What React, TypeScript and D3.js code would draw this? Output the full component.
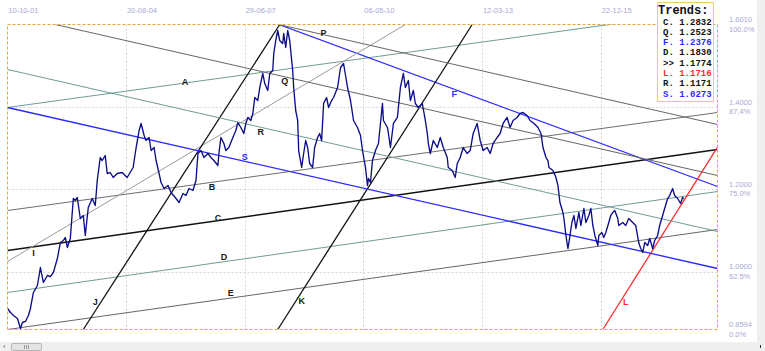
import * as d3 from 'd3'

// bar index of each date label (labels every 119 bars)
const dateLabels = ['10-10-01', '20-08-04', '29-06-07', '06-05-10', '12-03-13', '22-12-15']
const barsPerLabel = 119
const lastBar = 712

const priceMin = 0.8594
const priceMax = 1.601
const priceTicks = [1.601, 1.4, 1.2, 1.0, 0.8594]
const priceTickLabels = ['1.6010', '1.4000', '1.2000', '1.0000', '0.8594']
const pctTickLabels = ['100.0%', '87.4%', '75.0%', '62.5%', '0.0%']
const gridPrices = [1.4, 1.2, 1.0]

// [bar, close]
const closes: [number, number][] = [
  [0, 0.9105], [3, 0.9007], [6, 0.8934], [10, 0.8861], [13, 0.8618], [15, 0.8764], [18, 0.879], [21, 0.8934],
  [23, 0.9105], [26, 0.9494], [30, 0.9664], [33, 1.0101], [36, 0.9737], [40, 0.9907], [43, 0.988], [46, 0.998],
  [50, 1.032], [53, 1.0709], [56, 1.0758], [58, 1.0831], [60, 1.0588], [63, 1.0807], [66, 1.1779], [68, 1.1731],
  [70, 1.1804], [73, 1.1293], [76, 1.1366], [78, 1.088], [81, 1.156], [85, 1.1779], [88, 1.1609], [90, 1.2217],
  [93, 1.2776], [95, 1.2703], [98, 1.2825], [100, 1.2387], [103, 1.2411], [106, 1.229], [110, 1.2387], [115, 1.2411],
  [120, 1.229], [126, 1.2533], [129, 1.3019], [132, 1.3433], [134, 1.3603], [137, 1.3311], [139, 1.319], [142, 1.3262],
  [144, 1.2946], [147, 1.3019], [149, 1.2703], [152, 1.2387], [154, 1.2168], [157, 1.2022], [161, 1.2095], [164, 1.1925],
  [169, 1.1779], [172, 1.1682], [176, 1.1901], [179, 1.1852], [182, 1.2022], [186, 1.1974], [189, 1.2217], [191, 1.2873],
  [194, 1.2946], [197, 1.2776], [201, 1.2873], [204, 1.2776], [207, 1.2703], [211, 1.2582], [212, 1.2873], [214, 1.3262],
  [217, 1.3117], [219, 1.2946], [222, 1.3019], [226, 1.3262], [229, 1.3433], [231, 1.3627], [234, 1.3506], [237, 1.336],
  [239, 1.3603], [241, 1.3749], [244, 1.3676], [246, 1.3846], [248, 1.4235], [251, 1.4162], [253, 1.4478], [256, 1.4819],
  [258, 1.4575], [261, 1.4405], [263, 1.4819], [266, 1.4891], [267, 1.5305], [269, 1.5621], [271, 1.5864], [273, 1.5621],
  [276, 1.5548], [277, 1.5791], [279, 1.5451], [281, 1.5864], [283, 1.5621], [286, 1.4891], [287, 1.4478], [289, 1.3919],
  [291, 1.3676], [292, 1.2946], [295, 1.2533], [297, 1.2873], [299, 1.319], [301, 1.3019], [303, 1.263], [306, 1.2533],
  [308, 1.3019], [311, 1.3262], [313, 1.336], [315, 1.319], [317, 1.4089], [320, 1.4235], [322, 1.3992], [325, 1.4162],
  [327, 1.4235], [331, 1.4478], [334, 1.4964], [337, 1.5062], [341, 1.4478], [344, 1.4162], [347, 1.3676], [351, 1.3506],
  [354, 1.3311], [356, 1.2946], [359, 1.2533], [361, 1.2095], [362, 1.2266], [364, 1.2168], [366, 1.2703], [369, 1.2946],
  [372, 1.3117], [376, 1.4089], [377, 1.3676], [381, 1.3506], [382, 1.336], [384, 1.3019], [387, 1.3603], [391, 1.3749],
  [394, 1.4478], [397, 1.4819], [399, 1.4478], [402, 1.4648], [404, 1.4162], [407, 1.4405], [409, 1.4089], [412, 1.3992],
  [416, 1.4089], [419, 1.3676], [421, 1.336], [422, 1.3117], [424, 1.2873], [427, 1.319], [431, 1.3019], [434, 1.3262],
  [437, 1.3019], [441, 1.2776], [442, 1.2533], [446, 1.246], [449, 1.229], [451, 1.263], [454, 1.2776], [457, 1.3019],
  [461, 1.2873], [464, 1.2946], [467, 1.336], [471, 1.3603], [474, 1.319], [477, 1.2946], [481, 1.3019], [484, 1.2873],
  [487, 1.3117], [491, 1.3262], [494, 1.336], [497, 1.3603], [501, 1.3749], [504, 1.3506], [507, 1.3676], [511, 1.3749],
  [514, 1.3846], [517, 1.387], [521, 1.3797], [524, 1.3676], [528, 1.3603], [532, 1.3506], [535, 1.336], [537, 1.3019],
  [540, 1.2776], [542, 1.2703], [543, 1.2533], [547, 1.246], [550, 1.229], [552, 1.2095], [554, 1.1682], [557, 1.1439],
  [558, 1.1293], [560, 1.088], [562, 1.0563], [563, 1.0709], [566, 1.1196], [568, 1.1366], [570, 1.105], [573, 1.1439],
  [575, 1.1123], [578, 1.1536], [580, 1.1196], [583, 1.1366], [585, 1.1536], [587, 1.1123], [589, 1.088], [592, 1.0636],
  [593, 1.088], [596, 1.0952], [598, 1.0831], [600, 1.0952], [603, 1.1196], [605, 1.1366], [607, 1.1439], [609, 1.1487],
  [612, 1.1293], [613, 1.1123], [617, 1.1196], [620, 1.1123], [623, 1.1293], [627, 1.1196], [630, 1.1123], [633, 1.0709],
  [635, 1.0563], [637, 1.0466], [639, 1.0709], [642, 1.0636], [644, 1.0807], [647, 1.0563], [649, 1.0758], [652, 1.088],
  [654, 1.1123], [657, 1.1366], [659, 1.1536], [662, 1.1779], [664, 1.1852], [667, 1.2022], [669, 1.1852], [672, 1.1779],
  [675, 1.1658], [677, 1.1804], [678, 1.1774],
]

// trend lines: name, [bar, price] start, [bar, price] end
const trendNames = ['A', 'B', 'C', 'D', 'E', 'F', 'I', 'J', 'K', 'L', 'P', 'Q', 'R', 'S']
const trendStart: [number, number][] = [
  [0, 1.3992], [0, 1.1487], [0, 1.0515], [0, 0.9494], [0, 0.8594], [272, 1.601], [0, 1.0247],
  [76, 0.8594], [271, 0.8594], [597, 0.8594], [272, 1.601], [48, 1.601], [0, 1.4916], [0, 1.3992],
]
const trendEnd: [number, number][] = [
  [712, 1.6372], [712, 1.387], [712, 1.2971], [712, 1.1949], [712, 1.1025], [712, 1.2071], [399, 1.601],
  [273, 1.601], [466, 1.601], [712, 1.303], [712, 1.3579], [712, 1.2338], [712, 1.0977], [712, 1.0077],
]
// bar where each trend's letter sits
const trendLabelBar = [178, 205, 211, 217, 224, 448, 26, 88, 295, 620, 317, 278, 254, 238]

const legendKeys = ['C.', 'Q.', 'F.', 'D.', '>>', 'L.', 'R.', 'S.']
const legendValues = ['1.2832', '1.2523', '1.2376', '1.1830', '1.1774', '1.1716', '1.1171', '1.0273']

const TEAL = '#6e9c97'
const BLUE = '#2a2aff'
const RED = '#ff2b2b'
const trendStyle: Record<string, { color: string; width: number; label: string; dy: number }> = {
  A: { color: TEAL, width: 1, label: '#1a1a1a', dy: -1.5 },
  B: { color: '#6e6e6e', width: 1, label: '#1a1a1a', dy: 5 },
  C: { color: '#111', width: 1.5, label: '#1a1a1a', dy: -2.5 },
  D: { color: TEAL, width: 1, label: '#1a1a1a', dy: -5 },
  E: { color: '#666', width: 1, label: '#1a1a1a', dy: -5.5 },
  F: { color: BLUE, width: 1.3, label: BLUE, dy: 5 },
  I: { color: '#9a9a9a', width: 1, label: '#1a1a1a', dy: 6.5 },
  J: { color: '#111', width: 1.3, label: '#1a1a1a', dy: -9 },
  K: { color: '#111', width: 1.3, label: '#1a1a1a', dy: 9.5 },
  L: { color: RED, width: 1.3, label: RED, dy: 8.5 },
  P: { color: '#666', width: 1, label: '#1a1a1a', dy: -2 },
  Q: { color: '#666', width: 1, label: '#1a1a1a', dy: 4 },
  R: { color: TEAL, width: 1, label: '#1a1a1a', dy: 4.5 },
  S: { color: BLUE, width: 1.3, label: BLUE, dy: -4.5 },
}
const legendColor: Record<string, string> = { 'F.': BLUE, 'L.': RED, 'S.': BLUE }

const AXIS_TEXT = '#a9a9d2'

export default function App() {
  const left = 7.5
  const right = 717.5
  const top = 24.5
  const bottom = 329.5

  const x = d3.scaleLinear().domain([0, lastBar]).range([left, right])
  const y = d3.scaleLinear().domain([priceMin, priceMax]).range([bottom, top])
  const line = d3.line<[number, number]>().x(d => x(d[0])).y(d => y(d[1]))

  const trendAt = (i: number, bar: number) => {
    const [b0, p0] = trendStart[i]
    const [b1, p1] = trendEnd[i]
    return p0 + ((p1 - p0) * (bar - b0)) / (b1 - b0)
  }

  return (
    <svg
      width={765}
      height={351}
      style={{ position: 'absolute', left: 0, top: 0, background: '#fff' }}
      fontFamily="'Liberation Sans', Arial, sans-serif"
    >
      <defs>
        <clipPath id="plot">
          <rect x={left} y={top} width={right - left} height={bottom - top} />
        </clipPath>
      </defs>

      {/* grid */}
      {dateLabels.map((_, i) =>
        i === 0 ? null : (
          <line
            key={'vg' + i}
            x1={Math.round(x(i * barsPerLabel)) + 0.5}
            x2={Math.round(x(i * barsPerLabel)) + 0.5}
            y1={top}
            y2={bottom}
            stroke="#d4d4d4"
            strokeDasharray="2,2"
          />
        )
      )}
      {gridPrices.map(p => (
        <line
          key={'hg' + p}
          x1={left}
          x2={right}
          y1={Math.round(y(p)) + 0.5}
          y2={Math.round(y(p)) + 0.5}
          stroke="#d4d4d4"
          strokeDasharray="2,2"
        />
      ))}

      {/* trend lines */}
      <g clipPath="url(#plot)">
        {trendNames.map((n, i) => (
          <line
            key={n}
            x1={x(trendStart[i][0])}
            y1={y(trendStart[i][1])}
            x2={x(trendEnd[i][0])}
            y2={y(trendEnd[i][1])}
            stroke={trendStyle[n].color}
            strokeWidth={trendStyle[n].width}
          />
        ))}
        <path d={line(closes) || ''} fill="none" stroke="#0d0d8a" strokeWidth={1.35} strokeLinejoin="round" />
      </g>

      {/* plot border */}
      <rect
        x={left}
        y={top}
        width={right - left}
        height={bottom - top}
        fill="none"
        stroke="#e4a63a"
        strokeDasharray="3,2"
      />

      {/* trend letters */}
      {trendNames.map((n, i) => {
        const bar = trendLabelBar[i]
        return (
          <text
            key={'t' + n}
            x={x(bar)}
            y={y(trendAt(i, bar)) + trendStyle[n].dy}
            fill={trendStyle[n].label}
            fontSize={9}
            fontWeight="bold"
            textAnchor="middle"
            dominantBaseline="central"
          >
            {n}
          </text>
        )
      })}

      {/* date labels */}
      {dateLabels.map((d, i) => (
        <text key={d} x={x(i * barsPerLabel) + 0.8} y={12.5} fill={AXIS_TEXT} fontSize={7.5}>
          {d}
        </text>
      ))}

      {/* price labels */}
      {priceTicks.map((p, i) => (
        <g key={'p' + i}>
          <text x={729} y={y(p) - 2.5} fill={AXIS_TEXT} fontSize={7.5}>
            {priceTickLabels[i]}
          </text>
          <text x={729} y={y(p) + 7} fill={AXIS_TEXT} fontSize={7.5}>
            {pctTickLabels[i]}
          </text>
        </g>
      ))}

      {/* legend */}
      <rect x={657.5} y={2.5} width={56} height={99} fill="#fff" stroke="#f0c97a" />
      <text x={658} y={13.5} fontFamily="'Liberation Mono', 'Courier New', monospace" fontWeight="bold" fontSize={12} fill="#111">
        Trends:
      </text>
      {legendKeys.map((k, i) => (
        <text
          key={k}
          x={663}
          y={24.5 + i * 10.3}
          fontFamily="'Liberation Mono', 'Courier New', monospace"
          fontWeight="bold"
          fontSize={9}
          fill={legendColor[k] || '#111'}
          style={{ whiteSpace: 'pre' }}
        >
          {k + ' ' + legendValues[i]}
        </text>
      ))}

      {/* window chrome: right band and bottom scrollbar */}
      <rect x={757} y={0} width={8} height={351} fill="#efefef" />
      <rect x={0} y={342} width={765} height={9} fill="#efefef" />
      <rect x={11.5} y={343.5} width={30} height={7} fill="#e4e4e4" stroke="#b5b5b5" rx={1} />
      {[-2, 0, 2].map(o => (
        <line key={o} x1={26.5 + o} x2={26.5 + o} y1={345} y2={349} stroke="#9a9a9a" />
      ))}
      <path d="M3,346.5 L5,345 L5,348 Z" fill="#8a8a8a" />
      <rect x={760} y={345} width={1} height={3} fill="#333" />
    </svg>
  )
}
